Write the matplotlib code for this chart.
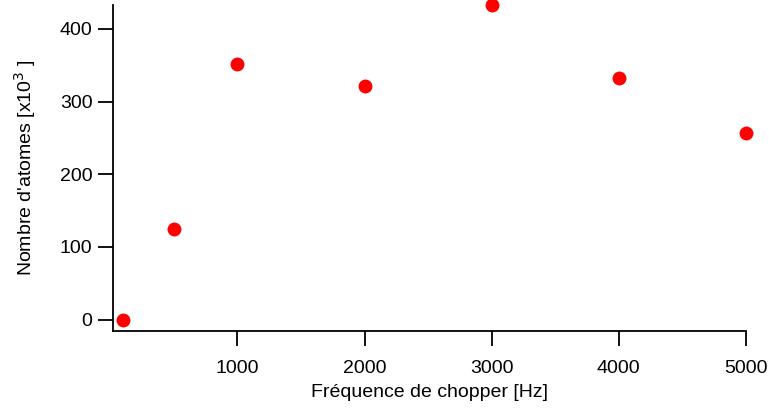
import matplotlib
matplotlib.use('Agg')
import matplotlib.pyplot as plt

# Données
frequence = [100, 500, 1000, 2000, 3000, 4000, 5000]
atomes = [0, 125, 352, 321, 433, 333, 257]
xticks = [1000, 2000, 3000, 4000, 5000]
yticks = [0, 100, 200, 300, 400]

plt.rcParams['font.family'] = ['Liberation Sans', 'DejaVu Sans']
plt.rcParams['font.size'] = 14

fig = plt.figure(figsize=(7.69, 4.09), dpi=100)
ax = fig.add_axes([112.7 / 769, (409 - 330.5) / 409, (745.7 - 112.7) / 769, (330.5 - 5) / 409])

ax.plot(frequence, atomes, 'o', color='#ff0000', markersize=10, markeredgewidth=0, clip_on=False)

ax.set_xlim(18, 5000)
ax.set_ylim(-15, 433)
ax.set_xticks(xticks)
ax.set_yticks(yticks)

for s in ['top', 'right']:
    ax.spines[s].set_visible(False)
for s in ['left', 'bottom']:
    ax.spines[s].set_linewidth(1.3)

ax.tick_params(axis='both', direction='out', length=10.5, width=1.3, color='black')
ax.tick_params(axis='x', pad=10.5)
ax.tick_params(axis='y', pad=4)

ax.set_xlabel('Fréquence de chopper [Hz]', labelpad=5)
ax.set_ylabel("Nombre d'atomes [x10$^{3}$ ]", labelpad=16)

fig.savefig('out.png', dpi=100)
